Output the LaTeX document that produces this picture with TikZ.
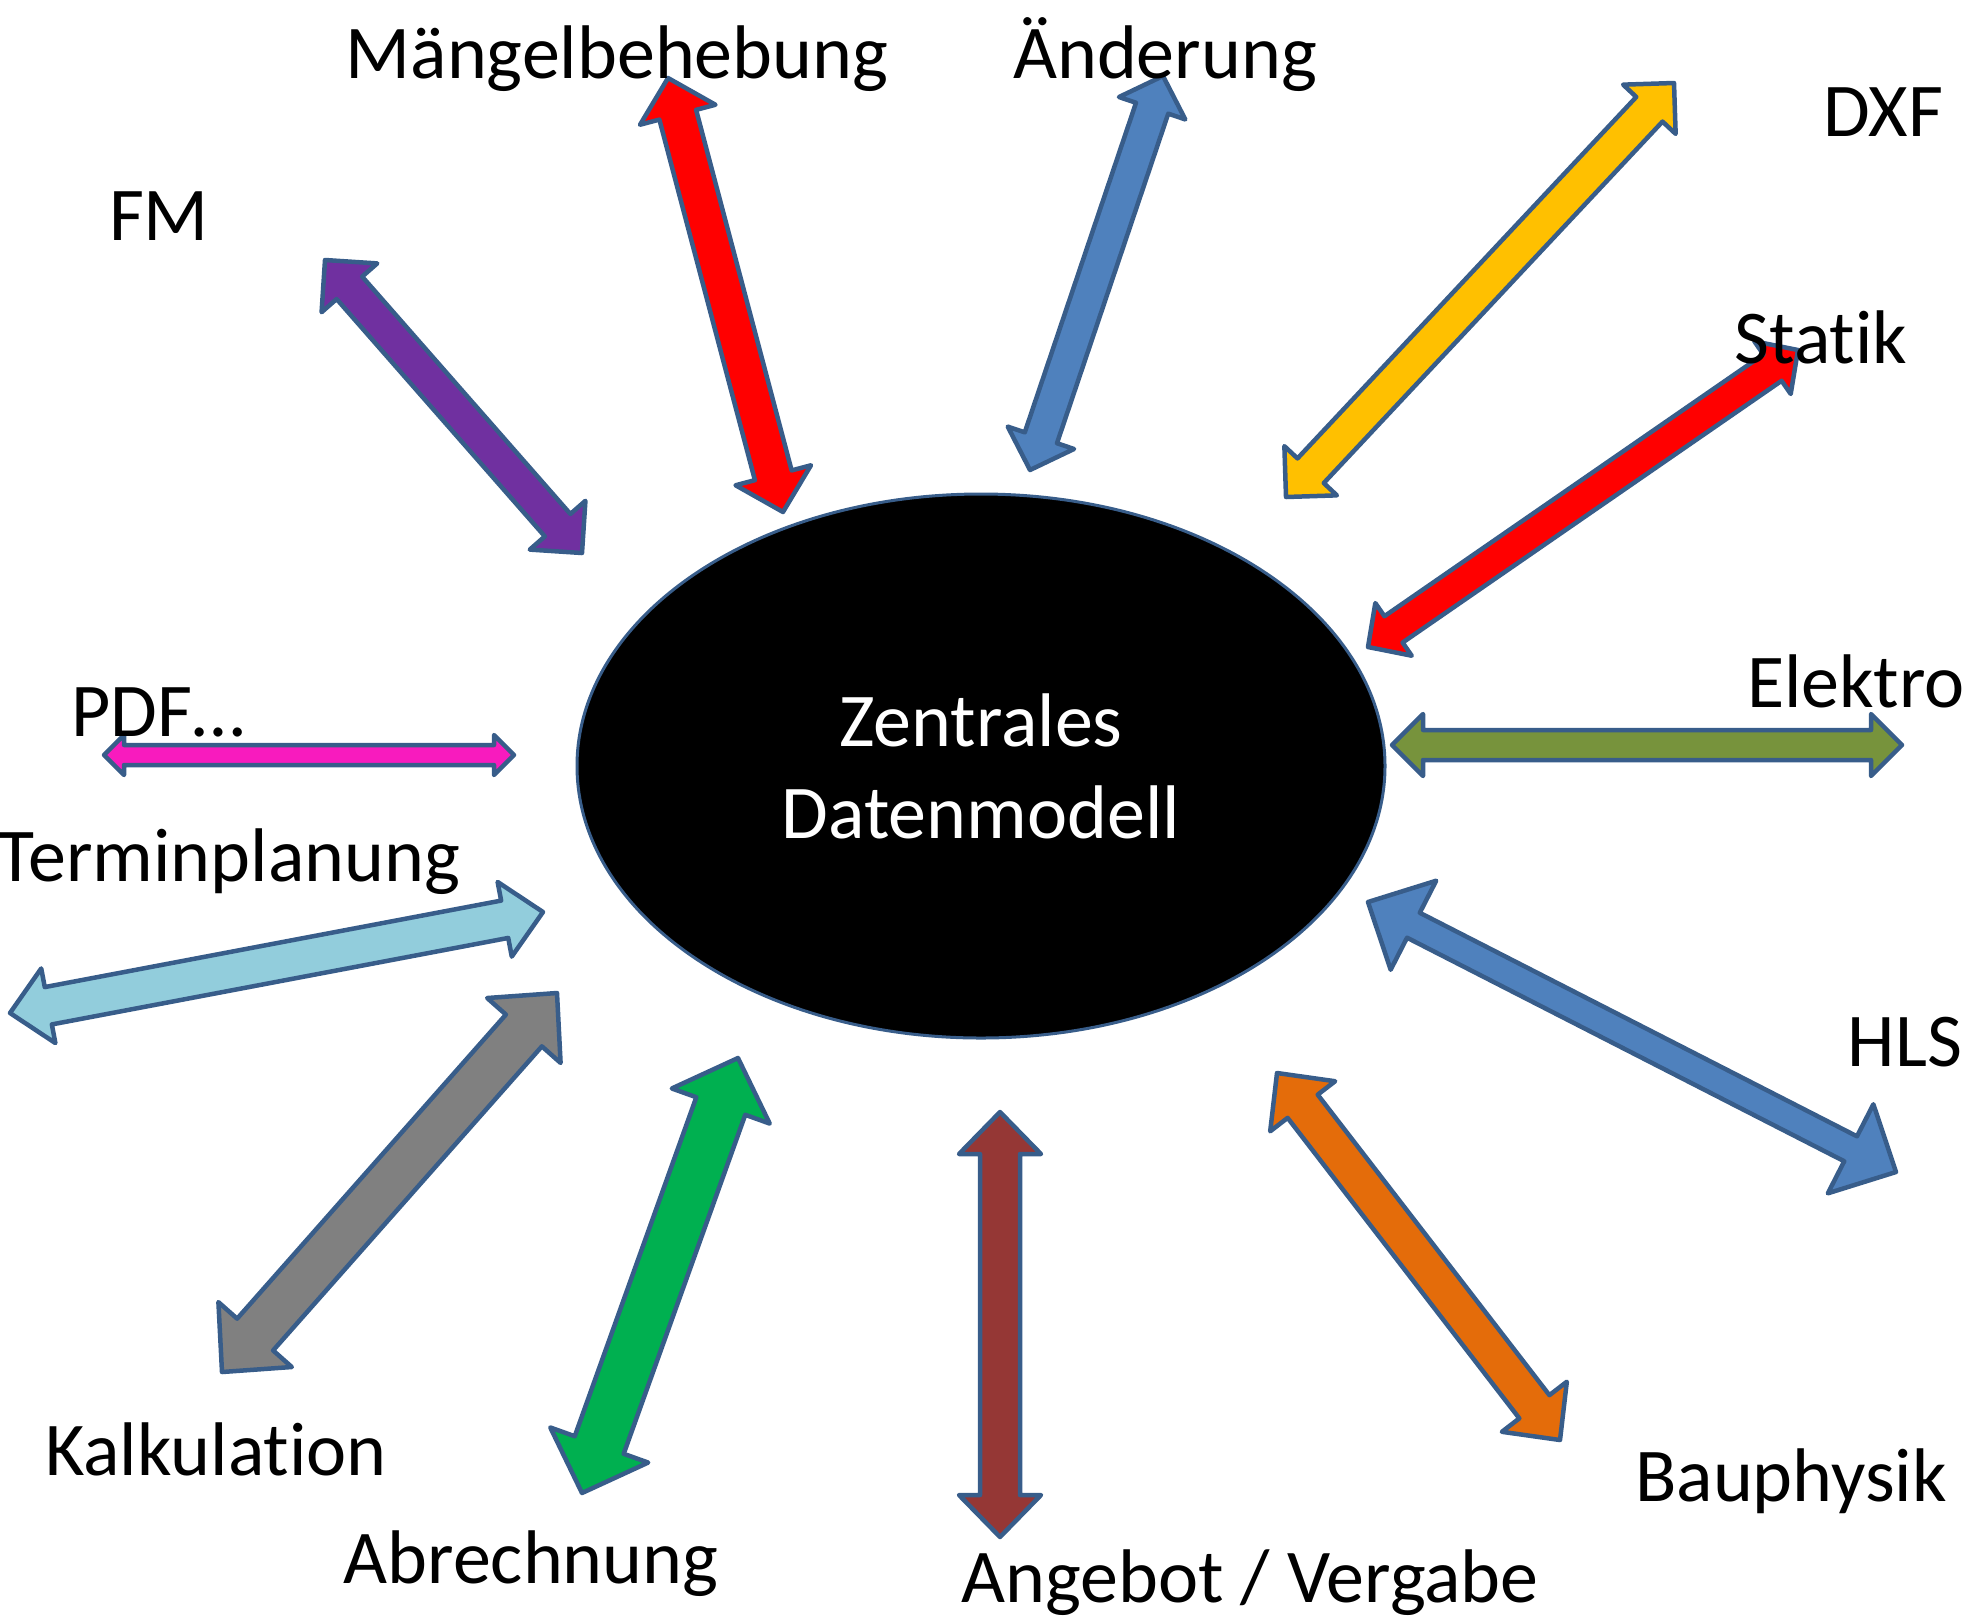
\documentclass[tikz,border=0pt]{standalone}
\usepackage{fontspec}
\setmainfont{Carlito}[Ligatures=CommonOff, Contextuals=AlternateOff]
\usetikzlibrary{calc}
\usetikzlibrary{shapes.geometric}

\definecolor{rahmen}{HTML}{385D8A}
\definecolor{rot}{HTML}{FF0000}
\definecolor{blau}{HTML}{4F81BD}
\definecolor{gelb}{HTML}{FFC000}
\definecolor{lila}{HTML}{7030A0}
\definecolor{oliv}{HTML}{77933C}
\definecolor{pink}{HTML}{F81BBE}
\definecolor{hellblau}{HTML}{92CDDC}
\definecolor{grau}{HTML}{808080}
\definecolor{gruen}{HTML}{00B050}
\definecolor{braun}{HTML}{953735}
\definecolor{orange}{HTML}{E46C0A}

\tikzset{
  pfeil/.style={draw=rahmen, line width=4.5pt, line join=round},
  beschriftung/.style={inner sep=0pt, anchor=base},
}

% block arrow with two heads: fill, half shaft, half head, head length, from, to
\newcommand{\doppelpfeil}[6]{%
  \coordinate (fb) at ($(#5)!#4!(#6)$);
  \coordinate (tb) at ($(#6)!#4!(#5)$);
  \draw[pfeil, fill=#1] (#5)
    -- ($(fb)!#3!90:(#6)$) -- ($(fb)!#2!90:(#6)$)
    -- ($(tb)!#2!-90:(#5)$) -- ($(tb)!#3!-90:(#5)$)
    -- (#6)
    -- ($(tb)!#3!90:(#5)$) -- ($(tb)!#2!90:(#5)$)
    -- ($(fb)!#2!-90:(#6)$) -- ($(fb)!#3!-90:(#6)$)
    -- cycle;
}

\begin{document}
\begin{tikzpicture}[x=1pt, y=-1pt, font=\fontsize{76}{92}\selectfont]
    \useasboundingbox (0,0) rectangle (1977,1618);

    \node[ellipse, draw=rahmen, line width=3pt, fill=black, text=white, align=center,
          minimum width=808pt, minimum height=544pt] (modell) at (981,766)
          {Zentrales\\Datenmodell};

    % arrow ends
    \coordinate (maengel-a) at (668,78);   \coordinate (maengel-b) at (783,512);
    \coordinate (aenderung-a) at (1163,76); \coordinate (aenderung-b) at (1030,470);
    \coordinate (dxf-a) at (1674,83);      \coordinate (dxf-b) at (1286,497);
    \coordinate (fm-a) at (325,260);       \coordinate (fm-b) at (582,553);
    \coordinate (statik-a) at (1798,350);  \coordinate (statik-b) at (1368,647);
    \coordinate (elektro-a) at (1392,745); \coordinate (elektro-b) at (1902,745);
    \coordinate (pdf-a) at (104,755);      \coordinate (pdf-b) at (514,755);
    \coordinate (termin-a) at (10,1013);   \coordinate (termin-b) at (543,912);
    \coordinate (hls-a) at (1368,902);     \coordinate (hls-b) at (1896,1172);
    \coordinate (kalk-a) at (557,993);     \coordinate (kalk-b) at (222,1372);
    \coordinate (abr-a) at (738,1058);     \coordinate (abr-b) at (582,1493);
    \coordinate (angebot-a) at (1000,1112); \coordinate (angebot-b) at (1000,1537);
    \coordinate (bau-a) at (1277,1073);    \coordinate (bau-b) at (1560,1440);

    \doppelpfeil{rot}{19pt}{39pt}{38pt}{maengel-a}{maengel-b}
    \doppelpfeil{blau}{17pt}{35pt}{34pt}{aenderung-a}{aenderung-b}
    \doppelpfeil{gelb}{18pt}{36pt}{36pt}{dxf-a}{dxf-b}
    \doppelpfeil{lila}{17pt}{37pt}{37pt}{fm-a}{fm-b}
    \doppelpfeil{rot}{16pt}{32pt}{31pt}{statik-a}{statik-b}
    \doppelpfeil{oliv}{15pt}{31pt}{31pt}{elektro-a}{elektro-b}
    \doppelpfeil{pink}{10pt}{20pt}{20pt}{pdf-a}{pdf-b}
    \doppelpfeil{hellblau}{19pt}{38pt}{39pt}{termin-a}{termin-b}
    \doppelpfeil{blau}{14pt}{50pt}{51pt}{hls-a}{hls-b}
    \doppelpfeil{grau}{24pt}{49pt}{50pt}{kalk-a}{kalk-b}
    \doppelpfeil{gruen}{26pt}{52pt}{51pt}{abr-a}{abr-b}
    \doppelpfeil{braun}{20pt}{41pt}{42pt}{angebot-a}{angebot-b}
    \doppelpfeil{orange}{19pt}{41pt}{42pt}{bau-a}{bau-b}

    \node[beschriftung] (maengel) at (617,78) {Mängelbehebung};
    \node[beschriftung] (aenderung) at (1165,78) {Änderung};
    \node[beschriftung] (dxf) at (1883,136) {DXF};
    \node[beschriftung] (fm) at (159,240) {FM};
    \node[beschriftung] (statik) at (1821,363) {Stat\kern0pt ik};
    \node[beschriftung] (elektro) at (1856,707) {Elektro};
    \node[beschriftung] (pdf) at (158,736) {PDF…};
    \node[beschriftung] (termin) at (229,881) {Terminplanung};
    \node[beschriftung] (hls) at (1905,1066) {HLS};
    \node[beschriftung] (kalk) at (216,1475) {Kalkulat\kern0pt ion};
    \node[beschriftung] (abr) at (531,1583) {Abrechnung};
    \node[beschriftung] (bau) at (1791,1501) {Bauphysik};
    \node[beschriftung] (angebot) at (1250,1602) {Angebot / Vergabe};
\end{tikzpicture}
\end{document}
